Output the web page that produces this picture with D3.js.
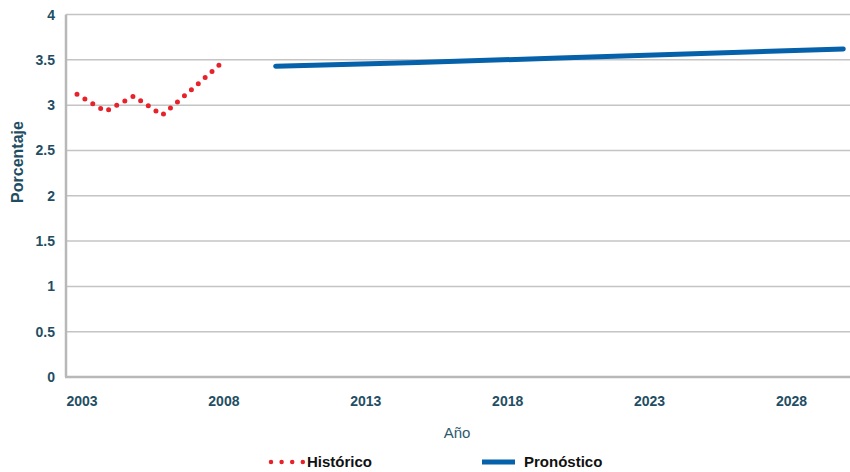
<!DOCTYPE html>
<html><head><meta charset="utf-8">
<script src="https://cdn.jsdelivr.net/npm/d3@7"></script>
<style>
body{margin:0;background:#fff;}
text{font-family:"Liberation Sans",Arial,sans-serif;}
</style></head>
<body><svg id="c" width="850" height="472"></svg>
<script>
const histYears = [2003, 2004, 2005, 2006, 2007, 2008];
const histValues = [3.12, 2.93, 3.10, 2.89, 3.16, 3.44];
const foreYears = [2010, 2015, 2020, 2025, 2030];
const foreValues = [3.43, 3.47, 3.52, 3.57, 3.62];
const xTicks = [2003, 2008, 2013, 2018, 2023, 2028];
const yTicks = [0, 0.5, 1, 1.5, 2, 2.5, 3, 3.5, 4];

const svg = d3.select("#c");
const x = d3.scaleLinear().domain([2003, 2028]).range([77, 786.5]);
const y = d3.scaleLinear().domain([0, 4]).range([377, 14.5]);
const x0 = 66, x1 = 850;
const teal = "#1f4e63";

// gridlines
svg.append("g").selectAll("line").data(yTicks.filter(d => d > 0)).join("line")
  .attr("x1", x0).attr("x2", x1).attr("y1", d => y(d)).attr("y2", d => y(d))
  .attr("stroke", "#c4c4c4").attr("stroke-width", 1.5);

// axes lines
svg.append("line").attr("x1", x0).attr("x2", x0).attr("y1", y(4)).attr("y2", y(0))
  .attr("stroke", "#b8b8b8").attr("stroke-width", 2.5);
svg.append("line").attr("x1", x0 - 1).attr("x2", x1).attr("y1", y(0)).attr("y2", y(0))
  .attr("stroke", "#b8b8b8").attr("stroke-width", 2.5);

// y tick labels
svg.append("g").selectAll("text").data(yTicks).join("text")
  .attr("x", 55).attr("y", d => y(d) + 5).attr("text-anchor", "end")
  .attr("font-size", 14).attr("font-weight", "bold").attr("fill", teal)
  .text(d => d);

// x tick labels
svg.append("g").selectAll("text").data(xTicks).join("text")
  .attr("x", d => x(d) + 5).attr("y", 406).attr("text-anchor", "middle")
  .attr("font-size", 14).attr("font-weight", "bold").attr("fill", teal)
  .text(d => d);

// axis titles
svg.append("text").attr("x", 457).attr("y", 438).attr("text-anchor", "middle")
  .attr("font-size", 15).attr("fill", "#2e5a6e").text("Año");
svg.append("text").attr("transform", "translate(23,162) rotate(-90)")
  .attr("text-anchor", "middle").attr("font-size", 16).attr("font-weight", "bold")
  .attr("fill", teal).text("Porcentaje");

const line = d3.line().x(d => x(d[0])).y(d => y(d[1]));

// historical dotted
const hp = svg.append("path").datum(histYears.map((d, i) => [d, histValues[i]]))
  .attr("d", line).attr("fill", "none").attr("stroke", "#e8222a")
  .attr("stroke-width", 5).attr("stroke-linecap", "round");
const len = hp.node().getTotalLength();
const gap = len / Math.round(len / 9.3);
hp.attr("stroke-dasharray", "0 " + gap);

// forecast
svg.append("path").datum(foreYears.map((d, i) => [d, foreValues[i]]))
  .attr("d", line).attr("fill", "none").attr("stroke", "#0561a9")
  .attr("stroke-width", 5).attr("stroke-linecap", "round");

// legend
svg.append("line").attr("x1", 271).attr("x2", 303).attr("y1", 462).attr("y2", 462)
  .attr("stroke", "#e8222a").attr("stroke-width", 4.5).attr("stroke-linecap", "round")
  .attr("stroke-dasharray", "0 10.6");
svg.append("text").attr("x", 307).attr("y", 467).attr("font-size", 15)
  .attr("font-weight", "bold").attr("fill", "#111").text("Histórico");
svg.append("line").attr("x1", 482).attr("x2", 515).attr("y1", 462).attr("y2", 462)
  .attr("stroke", "#0561a9").attr("stroke-width", 5);
svg.append("text").attr("x", 524).attr("y", 467).attr("font-size", 15)
  .attr("font-weight", "bold").attr("fill", "#111").text("Pronóstico");
</script></body></html>
